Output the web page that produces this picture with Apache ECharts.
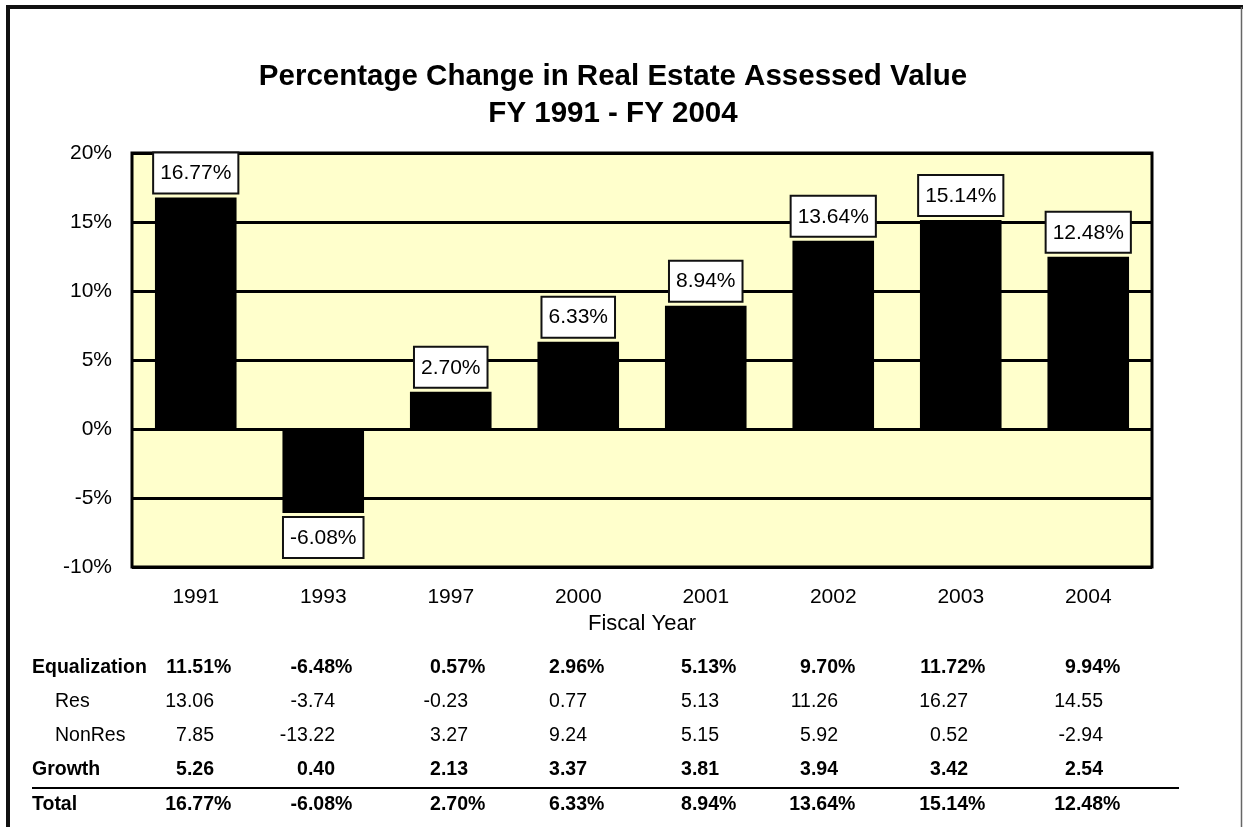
<!DOCTYPE html>
<html>
<head>
<meta charset="utf-8">
<script src="https://cdn.jsdelivr.net/npm/echarts@6/dist/echarts.min.js"></script>
<style>
html,body{margin:0;padding:0;background:#fff;}
#chart{width:1243px;height:827px;}
</style>
</head>
<body>
<div id="chart"></div>
<script>
// ---- data ----
const categories = ['1991', '1993', '1997', '2000', '2001', '2002', '2003', '2004'];
const totalChange = [16.77, -6.08, 2.70, 6.33, 8.94, 13.64, 15.14, 12.48];
const equalization = [11.51, -6.48, 0.57, 2.96, 5.13, 9.70, 11.72, 9.94];
const resValues = [13.06, -3.74, -0.23, 0.77, 5.13, 11.26, 16.27, 14.55];
const nonResValues = [7.85, -13.22, 3.27, 9.24, 5.15, 5.92, 0.52, -2.94];
const growth = [5.26, 0.40, 2.13, 3.37, 3.81, 3.94, 3.42, 2.54];
const yTicks = [-10, -5, 0, 5, 10, 15, 20];
const titleLines = ['Percentage Change in Real Estate Assessed Value', 'FY 1991 - FY 2004'];
const xAxisName = 'Fiscal Year';

// ---- layout (style only) ----
const FONT = '"Liberation Sans", Arial, Helvetica, sans-serif';
const colRight = [214, 335, 468, 587, 719, 838, 968, 1103];
const tableRows = [
  { label: 'Equalization', values: equalization, bold: true, pct: true, x: 32, y: 668 },
  { label: 'Res', values: resValues, bold: false, pct: false, x: 55, y: 702 },
  { label: 'NonRes', values: nonResValues, bold: false, pct: false, x: 55, y: 736 },
  { label: 'Growth', values: growth, bold: true, pct: false, x: 32, y: 770 },
  { label: 'Total', values: totalChange, bold: true, pct: true, x: 32, y: 805 }
];

const chart = echarts.init(document.getElementById('chart'), null, { renderer: 'canvas' });

const graphics = [];
// frame
graphics.push({ type: 'line', shape: { x1: 8, y1: 7, x2: 8, y2: 840 }, style: { stroke: '#111', lineWidth: 4 }, z: 10 });
graphics.push({ type: 'line', shape: { x1: 6, y1: 7, x2: 1243, y2: 7 }, style: { stroke: '#111', lineWidth: 4 }, z: 10 });
graphics.push({ type: 'line', shape: { x1: 1241.5, y1: 7, x2: 1241.5, y2: 840 }, style: { stroke: '#666', lineWidth: 1.5 }, z: 10 });

// table
tableRows.forEach(row => {
  const fw = row.bold ? 'bold' : 'normal';
  graphics.push({
    type: 'text', x: row.x, y: row.y,
    style: { text: row.label, font: fw + ' 19.5px ' + FONT, fill: '#000', textAlign: 'left', textVerticalAlign: 'middle' }
  });
  row.values.forEach((v, i) => {
    graphics.push({
      type: 'text', x: colRight[i], y: row.y,
      style: { text: v.toFixed(2), font: fw + ' 19.5px ' + FONT, fill: '#000', textAlign: 'right', textVerticalAlign: 'middle' }
    });
    if (row.pct) {
      graphics.push({
        type: 'text', x: colRight[i], y: row.y,
        style: { text: '%', font: fw + ' 19.5px ' + FONT, fill: '#000', textAlign: 'left', textVerticalAlign: 'middle' }
      });
    }
  });
});
// rule above Total
graphics.push({ type: 'line', shape: { x1: 32, y1: 788, x2: 1179, y2: 788 }, style: { stroke: '#000', lineWidth: 2 } });

const option = {
  animation: false,
  backgroundColor: '#fff',
  textStyle: { fontFamily: FONT },
  title: {
    text: titleLines.join('\n'),
    left: 613, top: 58, textAlign: 'center', padding: 0,
    textStyle: { fontSize: 29.5, fontWeight: 'bold', color: '#000', lineHeight: 37, fontFamily: FONT }
  },
  grid: {
    left: 132, right: 91, top: 153, bottom: 260,
    show: true, backgroundColor: '#FFFFCC', borderColor: '#000', borderWidth: 3,
    containLabel: false
  },
  xAxis: {
    type: 'category', data: categories,
    axisLine: { show: false, onZero: false },
    axisTick: { show: false },
    axisLabel: { color: '#000', fontSize: 21, margin: 20, fontFamily: FONT },
    name: xAxisName, nameLocation: 'middle', nameGap: 46,
    nameTextStyle: { color: '#000', fontSize: 22, fontFamily: FONT }
  },
  yAxis: {
    type: 'value', min: yTicks[0], max: yTicks[yTicks.length - 1], interval: 5,
    axisLine: { show: false }, axisTick: { show: false },
    axisLabel: { color: '#000', fontSize: 21, margin: 20, formatter: '{value}%', fontFamily: FONT },
    splitLine: { show: true, lineStyle: { color: '#000', width: 3 } }
  },
  series: [{
    type: 'bar',
    data: totalChange.map(v => ({
      value: v,
      label: { position: v < 0 ? 'bottom' : 'top' }
    })),
    barWidth: '64%',
    itemStyle: { color: '#000' },
    label: {
      show: true, distance: 5,
      formatter: p => p.value.toFixed(2) + '%',
      color: '#000', fontSize: 21, fontFamily: FONT, lineHeight: 22,
      backgroundColor: '#fff', borderColor: '#111', borderWidth: 2,
      padding: [9, 6, 8, 6]
    }
  }],
  graphic: graphics
};
chart.setOption(option);
</script>
</body>
</html>
